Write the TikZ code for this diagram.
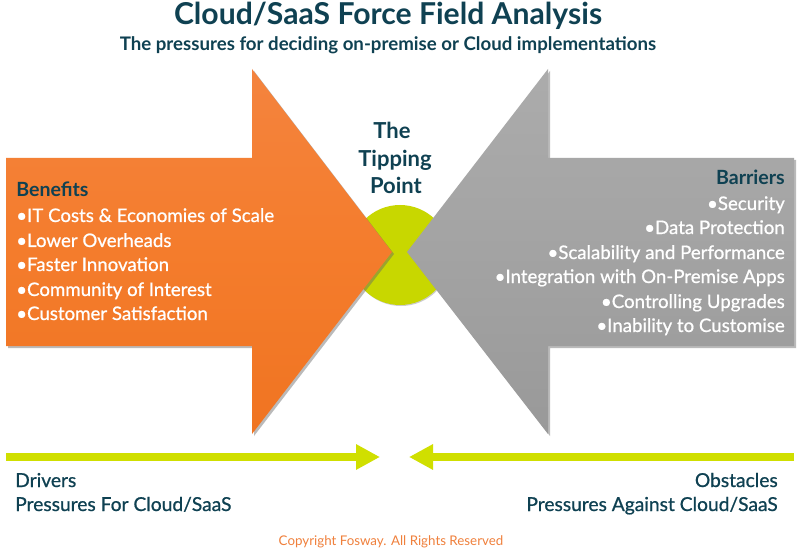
\documentclass[tikz,border=0pt]{standalone}
\usepackage{fontspec}
\setmainfont{Lato}[BoldFont={Lato Bold}]
\newfontfamily\medfont{Lato}[FakeBold=0.8]
\usetikzlibrary{arrows.meta,shadings}
\definecolor{teal}{HTML}{0F4152}
\definecolor{lime}{HTML}{D0DF00}
\definecolor{limecirc}{HTML}{C8D700}
\definecolor{orangetop}{HTML}{F58B50}
\definecolor{orangemid}{HTML}{F47C2C}
\definecolor{orangebot}{HTML}{EC6C17}
\definecolor{graytop}{HTML}{B4B4B4}
\definecolor{graymid}{HTML}{A3A3A3}
\definecolor{graybot}{HTML}{8F8F8F}
\definecolor{copyor}{HTML}{F0803C}
\pgfdeclareverticalshading{orangeshade}{100bp}{color(0bp)=(orangebot);color(50bp)=(orangemid);color(100bp)=(orangetop)}
\pgfdeclareverticalshading{grayshade}{100bp}{color(0bp)=(graybot);color(50bp)=(graymid);color(100bp)=(graytop)}
\tikzset{
  x=0.75pt,y=-0.75pt,
  dropsh/.style={fill=black!60,fill opacity=.45,draw=none,xshift=1.5pt,yshift=-1.5pt},
  benefit/.style={anchor=base west,inner sep=0pt,text=white,font=\medfont\fontsize{14}{16}\selectfont},
  barrier/.style={anchor=base east,inner sep=0pt,text=white,font=\medfont\fontsize{14}{16}\selectfont},
  headl/.style={inner sep=0pt,text=teal,font=\bfseries\fontsize{14.7}{17}\selectfont},
  tip/.style={anchor=base,inner sep=0pt,text=teal,font=\bfseries\fontsize{16.5}{19}\selectfont},
  foot/.style={inner sep=0pt,text=teal,font=\medfont\fontsize{14.4}{17}\selectfont},
  force/.style={line width=6pt,draw=lime,-{Triangle[length=18pt,width=18pt]}},
}
\begin{document}
\begin{tikzpicture}
\useasboundingbox (0,0) rectangle (800,549);
\fill[white] (0,0) rectangle (800,549);
% tipping point
\fill[black!50,opacity=.4] (401,256) circle[radius=50];
\fill[limecirc] (400,255) circle[radius=50];
% left arrow
\fill[dropsh] (6,158)--(252,158)--(252,69)--(392,252)--(252,434)--(252,346)--(6,346)--cycle;
\shade[shading=orangeshade] (6,158)--(252,158)--(252,69)--(392,252)--(252,434)--(252,346)--(6,346)--cycle;
% right arrow
\fill[dropsh] (794,158)--(548,158)--(548,69)--(407,252)--(548,434)--(548,346)--(794,346)--cycle;
\shade[shading=grayshade] (794,158)--(548,158)--(548,69)--(407,252)--(548,434)--(548,346)--(794,346)--cycle;
% title
\node[anchor=base,inner sep=0pt,text=teal,font=\bfseries\fontsize{22.6}{26}\selectfont] (title) at (388,25) {Cloud/SaaS Force Field Analysis};
\node[anchor=base,inner sep=0pt,text=teal,font=\bfseries\fontsize{14}{17}\selectfont] (subtitle) at (388,51) {The pressures for deciding on-premise or Cloud implementations};
% tipping
\node[tip] (tp1) at (392,139) {The};
\node[tip] (tp2) at (395,167) {Tipping};
\node[tip] (tp3) at (396,194) {Point};
% benefits
\node[headl,anchor=base west] (ben) at (16,197) {Benefits};
\node[benefit] (b1) at (16,222) {•IT Costs \& Economies of Scale};
\node[benefit] (b2) at (16,247) {•Lower Overheads};
\node[benefit] (b3) at (16,271) {•Faster Innovation};
\node[benefit] (b4) at (16,296) {•Community of Interest};
\node[benefit] (b5) at (16,320) {•Customer Satisfaction};
% barriers
\node[headl,anchor=base east] (bar) at (785,185) {Barriers};
\node[barrier] (r1) at (785,210) {•Security};
\node[barrier] (r2) at (785,234) {•Data Protection};
\node[barrier] (r3) at (785,259) {•Scalability and Performance};
\node[barrier] (r4) at (785,283) {•Integration with On-Premise Apps};
\node[barrier] (r5) at (785,308) {•Controlling Upgrades};
\node[barrier] (r6) at (785,332) {•Inability to Customise};
% force arrows
\coordinate (ls) at (6,457); \coordinate (le) at (380,457);
\coordinate (rs) at (794,457); \coordinate (re) at (409,457);
\draw[force] (ls) -- (le);
\draw[force] (rs) -- (re);
% labels
\node[foot,anchor=base west] (dr) at (15,487) {Drivers};
\node[foot,anchor=base west] (dr2) at (15,511) {Pressures For Cloud/SaaS};
\node[foot,anchor=base east] (ob) at (778,487) {Obstacles};
\node[foot,anchor=base east] (ob2) at (778,511) {Pressures Against Cloud/SaaS};
\node[anchor=base,inner sep=0pt,text=copyor,font=\fontsize{10}{12}\selectfont] (copy) at (391,545) {Copyright Fosway. All Rights Reserved};
\end{tikzpicture}
\end{document}
